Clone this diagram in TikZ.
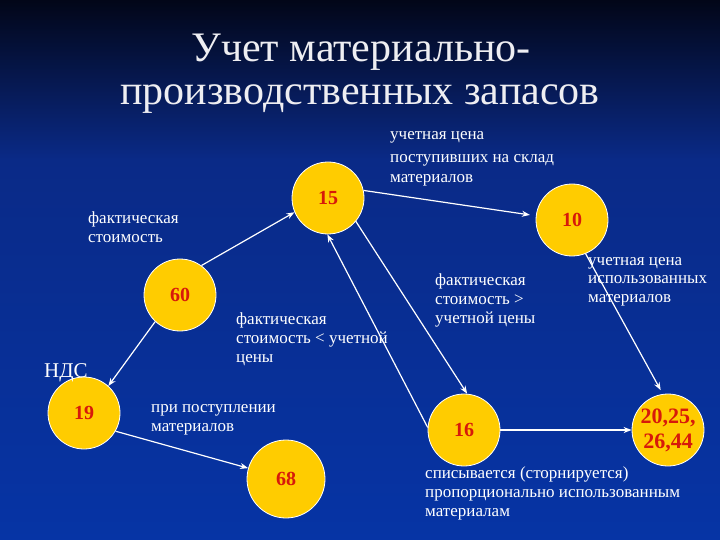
\documentclass[tikz,border=0pt]{standalone}
\usepackage{fontspec}
\setmainfont{Liberation Serif}
\usetikzlibrary{arrows.meta}
\definecolor{bgtop}{RGB}{2,6,24}
\definecolor{bgmid}{RGB}{10,42,135}
\definecolor{bgbot}{RGB}{6,52,165}
\definecolor{gold}{RGB}{255,204,0}
\definecolor{numred}{RGB}{215,25,10}
\definecolor{titlecol}{RGB}{238,238,242}
\begin{document}
\begin{tikzpicture}[x=1pt,y=-1pt,
  ball/.style={circle,minimum size=72pt,inner sep=0pt,fill=gold,draw=white,line width=0.8pt,text=numred,font=\fontsize{20}{24}\selectfont\bfseries,align=center},
  lbl/.style={text=white,font=\fontsize{17}{19}\selectfont,align=left,anchor=north west,inner sep=0pt,execute at begin node=\strut},
  ttl/.style={text=titlecol,font=\fontsize{42}{46}\selectfont,anchor=base,inner sep=0pt},
  arr/.style={draw=white,line width=1.2pt,-{Stealth[length=8pt,width=6pt]}}]
\useasboundingbox (0,0) rectangle (720,540);
\shade[top color=bgtop,bottom color=bgmid] (0,0) rectangle (720,160);
\shade[top color=bgmid,bottom color=bgbot] (0,160) rectangle (720,540);
% title
\node[ttl] (t1) at (361,62) {Учет материально-};
\node[ttl] (t2) at (360,105) {производственных запасов};
% circles
\node[ball] (c15) at (328,198) {15};
\node[ball] (c10) at (572,220) {10};
\node[ball] (c60) at (180,295) {60};
\node[ball] (c19) at (84,413) {19};
\node[ball,minimum size=78pt] (c68) at (286,479) {68};
\node[ball] (c16) at (464,430) {16};
\node[ball,font=\fontsize{22}{25}\selectfont\bfseries] (c20) at (668,430) {20,25,\\26,44};
% labels
\node[lbl] (l1) at (390,126) {учетная цена};
\node[lbl,font=\fontsize{17}{20}\selectfont] (l2) at (390,154) {поступивших на склад\\материалов};
\node[lbl] (l3) at (88,212) {фактическая\\стоимость};
\node[lbl] (l4) at (236,313) {фактическая\\стоимость < учетной\\цены};
\node[lbl] (l5) at (435,274) {фактическая\\стоимость >\\учетной цены};
\node[lbl,font=\fontsize{17}{18.5}\selectfont] (l6) at (588,257) {учетная цена\\использованных\\материалов};
\node[text=white,font=\fontsize{21}{24}\selectfont,anchor=base west,inner sep=0pt] (nds) at (44,377) {НДС};
\node[lbl] (l7) at (151,404) {при поступлении\\материалов};
\node[lbl] (l8) at (425,467) {списывается (сторнируется)\\пропорционально использованным\\материалам};
% arrows
\draw[arr] (c60.54) -- (c15.203);
\draw[arr] (c60.227) -- (c19.48);
\draw[arr] (c15.12) -- ([shift={(-6,0)}]c10.172);
\draw[arr] (c15.-40) -- (c16.85);
\draw[arr] (c16.176) -- (c15.-91);
\draw[arr] (c10.-68) -- ([shift={(-1,-4)}]c20.100);
\draw[arr] (c19.-30) -- (c68.164);
\draw[arr] (c16.0) -- (c20.180);
\end{tikzpicture}
\end{document}
